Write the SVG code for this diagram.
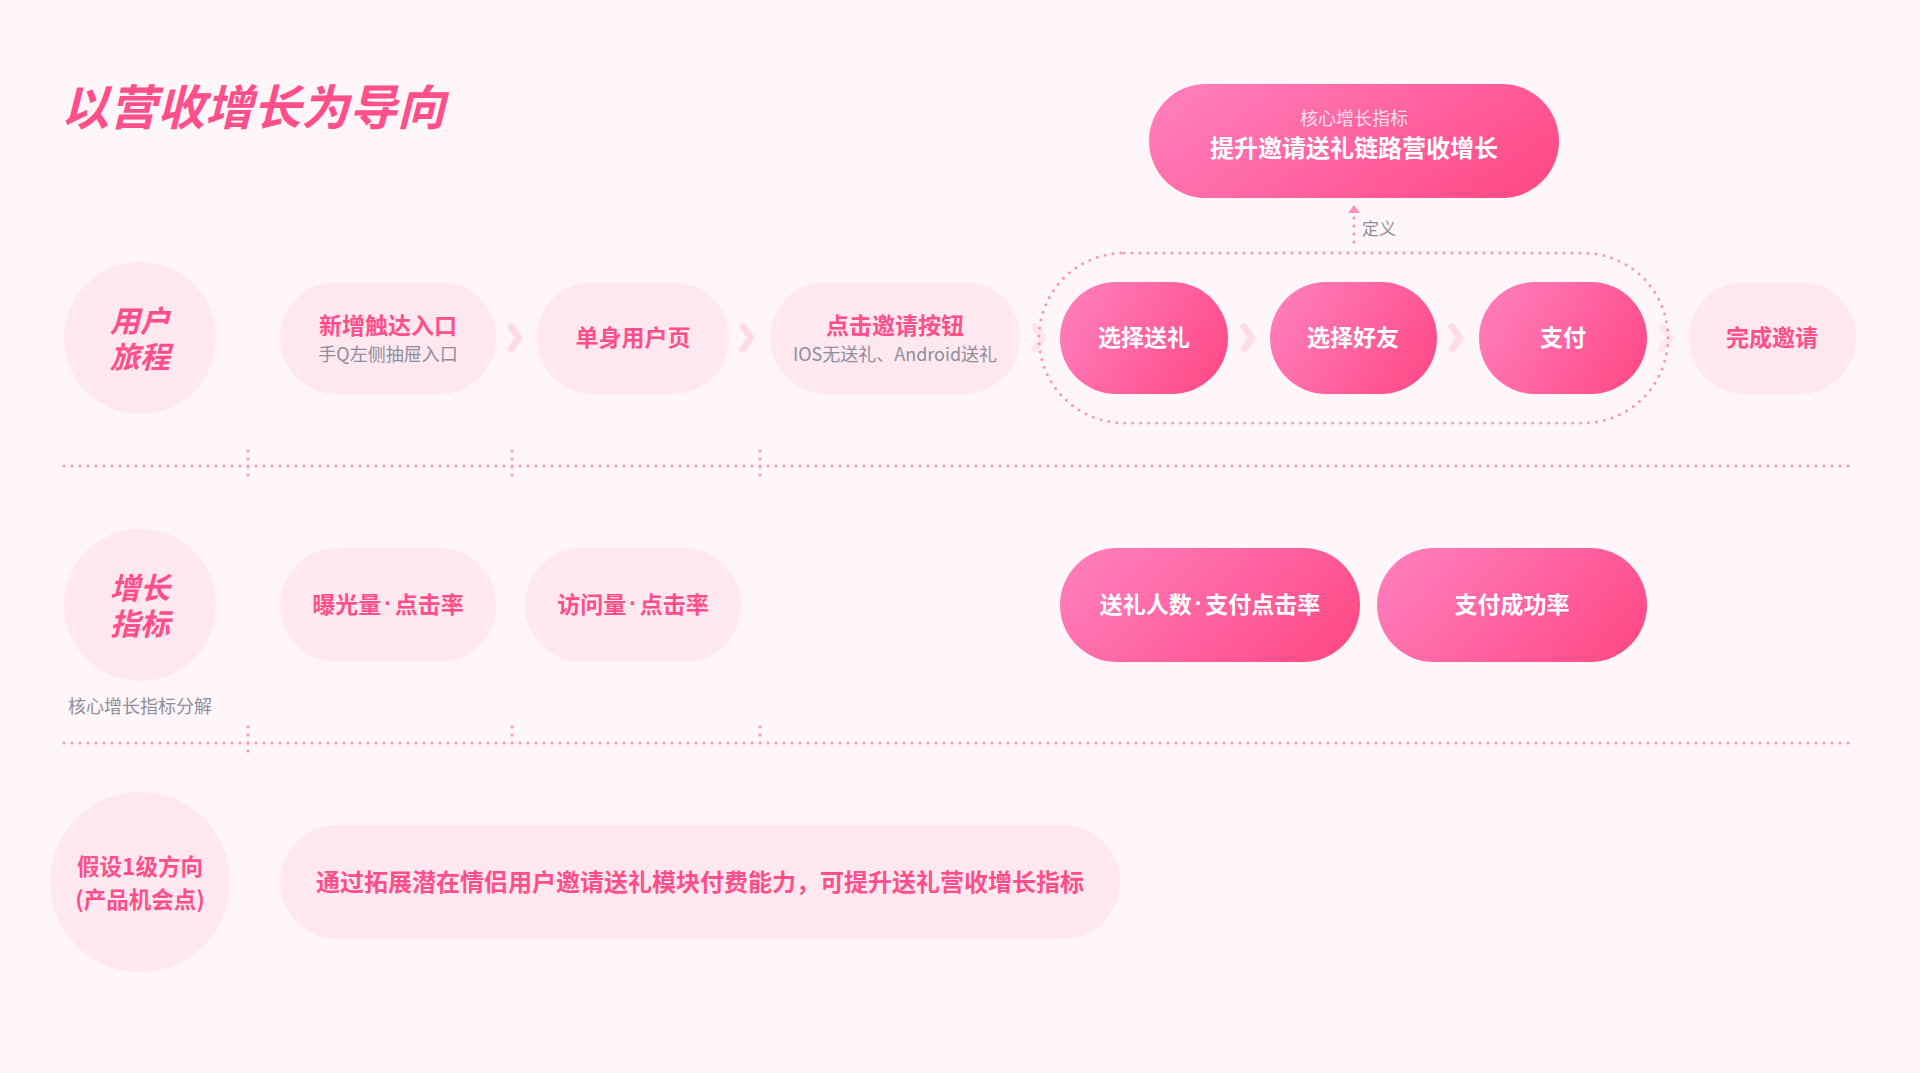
<svg xmlns="http://www.w3.org/2000/svg" width="1920" height="1073" viewBox="0 0 1920 1073">
<defs>
<linearGradient id="g" x1="0" y1="0.3" x2="1" y2="0.7">
<stop offset="0" stop-color="#ff7cba"/>
<stop offset="1" stop-color="#ff4b88"/>
</linearGradient>
<style>
text{font-family:"Noto Sans CJK SC","Noto Sans",sans-serif;text-anchor:middle;dominant-baseline:central}
.light{fill:#ffe8ef}
.hot{fill:url(#g)}
.pk{fill:#ff4f8b;font-weight:700;font-size:23px}
.wt{fill:#ffffff;font-weight:700;font-size:23px}
.sub{fill:#8e8e9c;font-size:18px}
.lab{fill:#ff4f8b;font-weight:700;font-size:30px;font-style:italic}
.md{font-family:"Liberation Sans",sans-serif}
.dot{fill:none;stroke:#ff93b9;stroke-width:3;stroke-linecap:round;stroke-dasharray:0 8}
.chev{fill:none;stroke:#ffdbe6;stroke-width:7;stroke-linejoin:round;stroke-linecap:round}
</style>
</defs>
<rect width="1920" height="1073" fill="#fff6f9"/>
<text x="61" y="104" style="text-anchor:start;font-size:48px;font-weight:700;font-style:italic;fill:#ff4f8b">以营收增长为导向</text>

<g id="connectors">
<line class="dot" x1="64" y1="466" x2="1852" y2="466"/>
<line class="dot" x1="64" y1="743" x2="1852" y2="743"/>
<line class="dot" x1="248" y1="451" x2="248" y2="483"/>
<line class="dot" x1="512" y1="451" x2="512" y2="483"/>
<line class="dot" x1="760" y1="451" x2="760" y2="483"/>
<line class="dot" x1="248" y1="727" x2="248" y2="759"/>
<line class="dot" x1="512" y1="727" x2="512" y2="743"/>
<line class="dot" x1="760" y1="727" x2="760" y2="743"/>
<path class="chev" d="M511 327 L519 338 L511 349"/>
<path class="chev" d="M743 327 L751 338 L743 349"/>
<path class="chev" d="M1035 327 L1043 338 L1035 349" opacity="0.6"/>
<path class="chev" d="M1244 327 L1252 338 L1244 349"/>
<path class="chev" d="M1452 327 L1460 338 L1452 349"/>
<path class="chev" d="M1662 327 L1670 338 L1662 349" opacity="0.6"/>
<rect class="dot" x="1039" y="253" width="629" height="170" rx="85"/>
<line class="dot" x1="1354" y1="218" x2="1354" y2="246"/>
<polygon points="1348,213 1360,213 1354,205" fill="#ff93b9"/>
<text x="1362" y="227" style="text-anchor:start;font-size:17px;fill:#8e8e9c">定义</text>
</g>

<g id="core">
<rect class="hot" x="1149" y="84" width="410" height="114" rx="57"/>
<text x="1354" y="117" style="font-size:18px;fill:#ffffff;fill-opacity:0.8">核心增长指标</text>
<text x="1354" y="146" style="font-size:24px;font-weight:700;fill:#ffffff">提升邀请送礼链路营收增长</text>
</g>

<g id="row-journey">
<circle class="light" cx="140" cy="338" r="76"/>
<text class="lab" x="140" y="319">用户<tspan x="140" dy="36">旅程</tspan></text>
</g>
<g id="n-entry">
<rect class="light" x="280" y="282" width="216" height="112" rx="56"/>
<text class="pk" x="388" y="324">新增触达入口</text>
<text class="sub" x="388" y="353">手Q左侧抽屉入口</text>
</g>
<g id="n-single">
<rect class="light" x="537" y="282" width="192" height="112" rx="56"/>
<text class="pk" x="633" y="336">单身用户页</text>
</g>
<g id="n-click">
<rect class="light" x="770" y="282" width="250" height="112" rx="56"/>
<text class="pk" x="895" y="324">点击邀请按钮</text>
<text class="sub" x="895" y="353">IOS无送礼、Android送礼</text>
</g>
<g id="n-gift">
<rect class="hot" x="1060" y="282" width="168" height="112" rx="56"/>
<text class="wt" x="1144" y="336">选择送礼</text>
</g>
<g id="n-friend">
<rect class="hot" x="1270" y="282" width="167" height="112" rx="56"/>
<text class="wt" x="1353" y="336">选择好友</text>
</g>
<g id="n-pay">
<rect class="hot" x="1479" y="282" width="168" height="112" rx="56"/>
<text class="wt" x="1563" y="336">支付</text>
</g>
<g id="n-done">
<rect class="light" x="1689" y="282" width="167" height="112" rx="56"/>
<text class="pk" x="1772" y="336">完成邀请</text>
</g>

<g id="row-metrics">
<circle class="light" cx="140" cy="605" r="76"/>
<text class="lab" x="140" y="586">增长<tspan x="140" dy="36">指标</tspan></text>
<text class="sub" x="140" y="705">核心增长指标分解</text>
</g>
<g id="m-expose">
<rect class="light" x="280" y="548" width="216" height="114" rx="57"/>
<text class="pk" x="388" y="603">曝光量<tspan class="md" dx="3">·</tspan><tspan dx="3">点击率</tspan></text>
</g>
<g id="m-visit">
<rect class="light" x="525" y="548" width="216" height="114" rx="57"/>
<text class="pk" x="633" y="603">访问量<tspan class="md" dx="3">·</tspan><tspan dx="3">点击率</tspan></text>
</g>
<g id="m-gift">
<rect class="hot" x="1060" y="548" width="300" height="114" rx="57"/>
<text class="wt" x="1210" y="603">送礼人数<tspan class="md" dx="3">·</tspan><tspan dx="3">支付点击率</tspan></text>
</g>
<g id="m-pay">
<rect class="hot" x="1377" y="548" width="270" height="114" rx="57"/>
<text class="wt" x="1512" y="603">支付成功率</text>
</g>

<g id="row-hypo">
<circle class="light" cx="140" cy="882" r="90"/>
<text class="pk" x="140" y="865" style="font-size:22.5px">假设1级方向<tspan x="140" dy="33">(产品机会点)</tspan></text>
</g>
<g id="h-1">
<rect class="light" x="280" y="825" width="840" height="114" rx="57"/>
<text class="pk" x="700" y="880" style="font-size:24px">通过拓展潜在情侣用户邀请送礼模块付费能力，可提升送礼营收增长指标</text>
</g>
</svg>
